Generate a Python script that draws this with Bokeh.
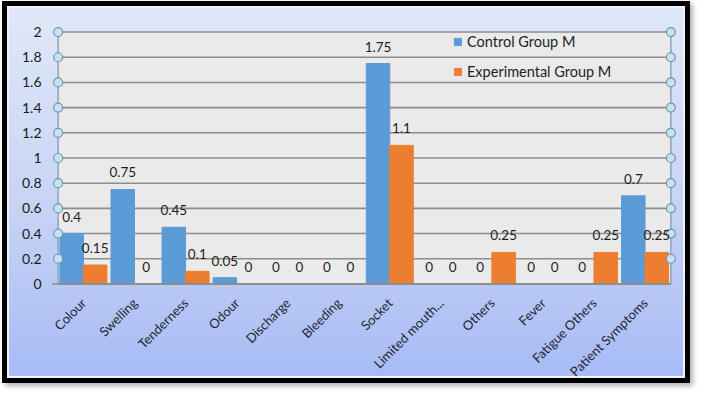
from bokeh.plotting import figure
from bokeh.models import (ColumnDataSource, Range1d, FixedTicker,
                          CustomJSTickFormatter, Legend, LegendItem, LabelSet)
from bokeh.transform import dodge
from bokeh.core.properties import value
from bokeh.embed import file_html
from bokeh.resources import INLINE

categories = ["Colour", "Swelling", "Tenderness", "Odour", "Discharge", "Bleeding",
              "Socket", "Limited mouth...", "Others", "Fever", "Fatigue Others",
              "Patient Symptoms"]
control = [0.4, 0.75, 0.45, 0.05, 0, 0, 1.75, 0, 0, 0, 0, 0.7]
experimental = [0.15, 0, 0.1, 0, 0, 0, 1.1, 0, 0.25, 0, 0.25, 0.25]
series_names = ["Control Group M", "Experimental Group M"]
y_ticks = [0, 0.2, 0.4, 0.6, 0.8, 1.0, 1.2, 1.4, 1.6, 1.8, 2.0]

BLUE = "#5b9bd5"
ORANGE = "#ed7d31"
FONT = "Lato"

n = len(categories)
pad_x = 0.15
pad_y = 0.06
y_max = y_ticks[-1]
centers = [i + 0.5 for i in range(n)]

src = ColumnDataSource(dict(
    x=centers,
    cat=categories,
    control=control,
    experimental=experimental,
    control_lbl=[f"{v:g}" for v in control],
    experimental_lbl=[f"{v:g}" for v in experimental],
))

p = figure(
    x_range=Range1d(-pad_x, n + pad_x),
    y_range=Range1d(-pad_y, y_max + pad_y),
    width=688, height=382,
    output_backend="svg", toolbar_location=None,
    min_border_left=43, min_border_right=17, min_border_top=18, min_border_bottom=94,
)

p.styles = {
    "margin": "1px 0 0 2px",
    "border": "5px solid #000",
    "background": "linear-gradient(to bottom, #e0e8f8 0%, #c6d3f4 55%, #a7bbf6 100%)",
    "box-shadow": "3px 3px 5px rgba(0,0,0,0.3), inset 0 0 0 2px #eef2fb",
}
p.border_fill_alpha = 0
p.background_fill_alpha = 0
p.outline_line_color = None
p.xgrid.visible = False
p.ygrid.visible = False

# plot area
p.quad(left=0, right=n, bottom=0, top=y_max, fill_color="#eaeaea", line_color=None)

# gridlines
p.segment(x0=[0] * len(y_ticks), x1=[n] * len(y_ticks), y0=y_ticks, y1=y_ticks,
          line_color="#8d8d8d", line_width=1.6)

# side lines
p.segment(x0=[0, n], x1=[0, n], y0=[0, 0], y1=[y_max, y_max],
          line_color="#8ea4b6", line_width=1.5)
p.segment(x0=[-0.12], x1=[0], y0=[0], y1=[0], line_color="#8d8d8d", line_width=1.5)

w = 0.46
off1 = -w / 2 - 0.005
off2 = w / 2 - 0.005
r1 = p.vbar(x=dodge("x", off1), top="control", width=w,
            source=src, fill_color=BLUE, line_color=BLUE)
r2 = p.vbar(x=dodge("x", off2), top="experimental", width=w,
            source=src, fill_color=ORANGE, line_color=ORANGE)

# bottom axis line
p.segment(x0=[0], x1=[n], y0=[0], y1=[0], line_color="#8d8d8d", line_width=2)

# handles
hy = y_ticks[1:]
p.scatter(x=[0] * len(hy), y=hy, size=9,
          fill_color="#c9e0ef", line_color="#6f97b3", line_width=1.2)
p.scatter(x=[n] * len(hy), y=hy, size=9,
          fill_color="#c9e0ef", line_color="#6f97b3", line_width=1.2)

for fld, off in (("control", off1), ("experimental", off2)):
    p.add_layout(LabelSet(x=dodge("x", off), y=fld, text=fld + "_lbl",
                          source=src, text_align="center", text_baseline="alphabetic",
                          y_offset=12, text_font=value(FONT),
                          text_font_size=value("13.5px"),
                          text_color=value("#1e1e1e")))

# axes
p.yaxis.ticker = FixedTicker(ticks=y_ticks)
p.yaxis.formatter = CustomJSTickFormatter(code="return String(Number(tick.toFixed(2)));")
p.yaxis.axis_line_color = None
p.yaxis.major_tick_line_color = None
p.yaxis.minor_tick_line_color = None
p.yaxis.major_label_standoff = 3
p.yaxis.major_label_text_font = FONT
p.yaxis.major_label_text_font_size = "14px"
p.yaxis.major_label_text_color = "#1a1a1a"

p.xaxis.ticker = FixedTicker(ticks=centers)
p.xaxis.major_label_overrides = {c: name for c, name in zip(centers, categories)}
p.xaxis.axis_line_color = None
p.xaxis.major_tick_line_color = None
p.xaxis.minor_tick_line_color = None
p.xaxis.major_label_orientation = 0.785
p.xaxis.major_label_standoff = 3
p.xaxis.major_label_text_font = FONT
p.xaxis.major_label_text_font_size = "13px"
p.xaxis.major_label_text_color = "#1f2533"

legend = Legend(items=[LegendItem(label=series_names[0], renderers=[r1]),
                       LegendItem(label=series_names[1], renderers=[r2])],
                location=(403, 210), orientation="vertical",
                background_fill_alpha=0, border_line_color=None,
                glyph_width=9, glyph_height=9, label_height=20, spacing=10,
                padding=0, margin=0, label_standoff=5,
                label_text_font=FONT, label_text_font_size="14.5px",
                label_text_color="#1e1e1e")
p.add_layout(legend)

open("out.html", "w").write(file_html(p, INLINE))
